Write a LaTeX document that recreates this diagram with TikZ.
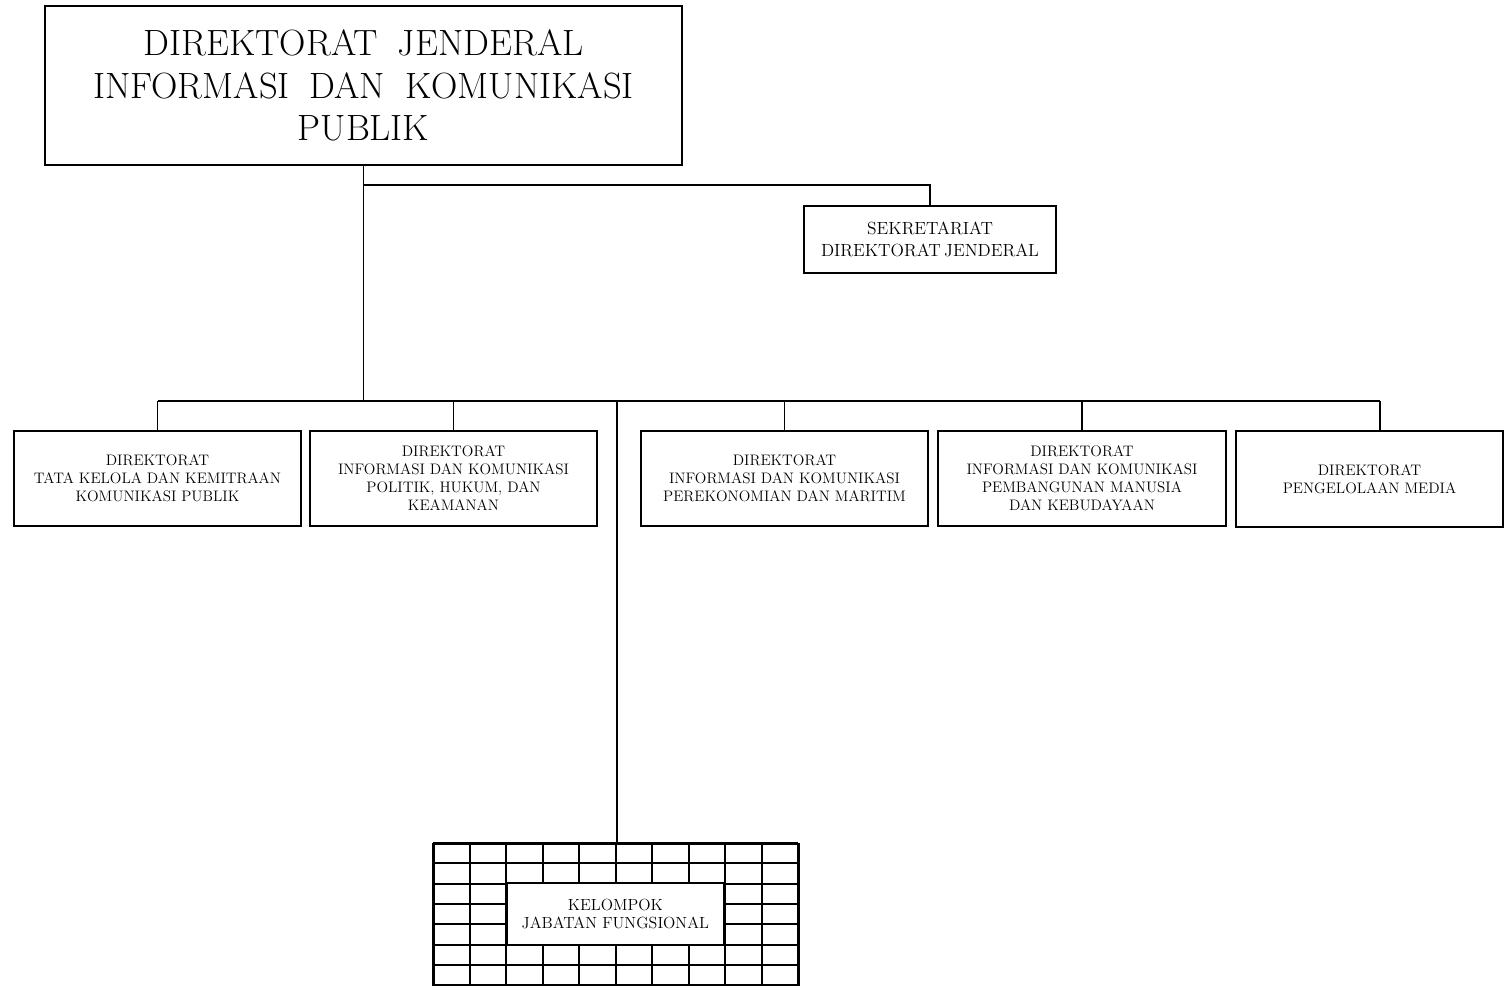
\documentclass[tikz,border=0pt]{standalone}
\usepackage{tikz}
\begin{document}
\begin{tikzpicture}[x=0.75pt,y=-0.75pt,
  box/.style={draw, line width=1.5pt, fill=white, inner sep=0pt, align=center,
    font=\fontsize{11.4}{13.5}\selectfont},
  conn/.style={line width=1.1pt},
  gridline/.style={line width=1.5pt}]
\useasboundingbox (0,0) rectangle (1505,985);

% top box
\node[box, font={\fontsize{27.4}{32}\selectfont\spaceskip=0.55em\relax},
  minimum width={637*0.75pt}, minimum height={159*0.75pt}] (dj) at (363.5,85.5)
  {DIREKTORAT JENDERAL\\INFORMASI DAN KOMUNIKASI\\PUBLIK};

% secretariat
\node[box, font={\fontsize{13.2}{16.5}\selectfont\spaceskip=0.2em\relax},
  minimum width={252*0.75pt}, minimum height={67*0.75pt}] (sek) at (930,239.5)
  {SEKRETARIAT\\DIREKTORAT JENDERAL};

% directorates
\node[box, minimum width={287*0.75pt}, minimum height={95*0.75pt}] (d1) at (157.5,478.5)
  {DIREKTORAT\\TATA KELOLA DAN KEMITRAAN\\KOMUNIKASI PUBLIK};
\node[box, minimum width={287*0.75pt}, minimum height={95*0.75pt}] (d2) at (453.5,478.5)
  {DIREKTORAT\\INFORMASI DAN KOMUNIKASI\\POLITIK, HUKUM, DAN\\KEAMANAN};
\node[box, minimum width={287*0.75pt}, minimum height={95*0.75pt}] (d3) at (784.5,478.5)
  {DIREKTORAT\\INFORMASI DAN KOMUNIKASI\\PEREKONOMIAN DAN MARITIM};
\node[box, minimum width={288*0.75pt}, minimum height={95*0.75pt}] (d4) at (1082,478.5)
  {DIREKTORAT\\INFORMASI DAN KOMUNIKASI\\PEMBANGUNAN MANUSIA\\DAN KEBUDAYAAN};
\node[box, minimum width={267*0.75pt}, minimum height={96*0.75pt}] (d5) at (1369.5,479)
  {DIREKTORAT\\PENGELOLAAN MEDIA};

% functional group grid
\foreach \i in {0,...,10}
  \draw[gridline] ({433.3+36.5*\i},843) -- ({433.3+36.5*\i},987);
\foreach \j in {0,...,7}
  \draw[gridline] (433.3,{843+20.3*\j}) -- (798.3,{843+20.3*\j});
\node[draw, line width=1.5pt, inner sep=0pt, anchor=north west,
  minimum width={365*0.75pt}, minimum height={142*0.75pt}] (grid) at (433.3,843) {};
\node[box, font=\fontsize{12.1}{13.5}\selectfont,
  minimum width={217.3*0.75pt}, minimum height={62*0.75pt}] (kel) at (615.35,914)
  {KELOMPOK\\JABATAN FUNGSIONAL};

% connectors
\coordinate (sj) at (363.5,185);
\coordinate (busL) at (157.5,401);
\coordinate (busR) at (1380,401);
\draw[conn] (dj.south) -- (dj.south |- busL);
\draw[conn] (sj) -| (sek.north);
\draw[conn] (busL) -- (busR);
\foreach \n in {d1,d2,d3,d4}
  \draw[conn] (\n.north |- busL) -- (\n.north);
\draw[conn] (busR) -- (busR |- d5.north);
\draw[conn] (grid.north |- busL) -- (grid.north);
\end{tikzpicture}
\end{document}
